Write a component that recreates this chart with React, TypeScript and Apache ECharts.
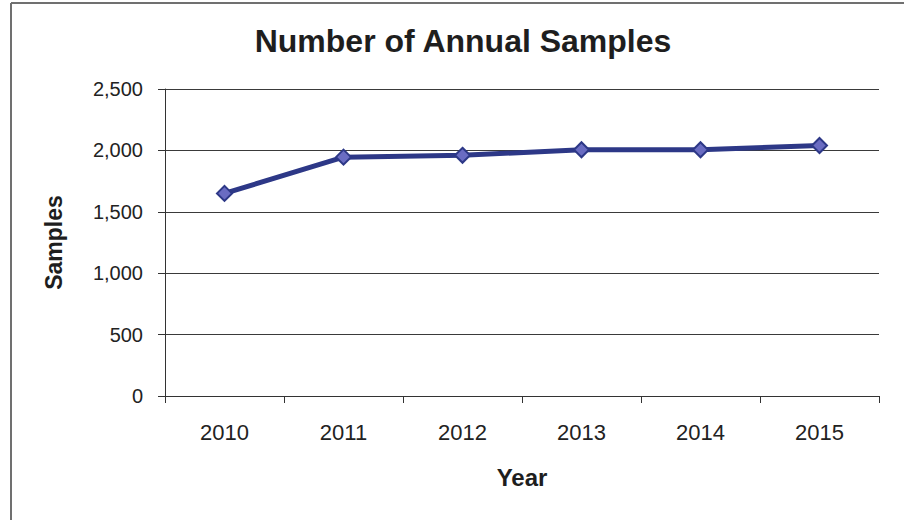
import React, { useEffect, useRef } from "react";
import * as echarts from "echarts";

const years = ["2010", "2011", "2012", "2013", "2014", "2015"];
const samples = [1650, 1945, 1960, 2005, 2005, 2040];
const yTicks = { min: 0, max: 2500, interval: 500 };
const titleText = "Number of Annual Samples";
const xName = "Year";
const yName = "Samples";

const FONT = "'Liberation Sans', Arial, sans-serif";

export default function App() {
  const ref = useRef<HTMLDivElement>(null);
  useEffect(() => {
    if (!ref.current) return;
    const chart = echarts.init(ref.current, undefined, { renderer: "svg" });
    chart.setOption({
      animation: false,
      backgroundColor: "#ffffff",
      title: {
        text: titleText,
        left: 458,
        top: 20,
        textAlign: "center",
        textStyle: { fontFamily: FONT, fontSize: 32, fontWeight: "bold", color: "#1e1e1e" },
      },
      grid: { left: 165, right: 25, top: 89, bottom: 124, containLabel: false },
      xAxis: {
        type: "category",
        data: years,
        boundaryGap: true,
        name: xName,
        nameLocation: "middle",
        nameGap: 69,
        nameTextStyle: { fontFamily: FONT, fontSize: 24, fontWeight: "bold", color: "#1e1e1e" },
        axisLine: { show: true, lineStyle: { color: "#333", width: 1 } },
        axisTick: { show: true, alignWithLabel: false, length: 7, lineStyle: { color: "#333" } },
        axisLabel: { fontFamily: FONT, fontSize: 22, color: "#222", margin: 25 },
        splitLine: { show: false },
      },
      yAxis: {
        type: "value",
        min: yTicks.min,
        max: yTicks.max,
        interval: yTicks.interval,
        name: yName,
        nameLocation: "middle",
        nameGap: 100,
        nameRotate: 90,
        nameTextStyle: { fontFamily: FONT, fontSize: 23, fontWeight: "bold", color: "#1e1e1e" },
        axisLine: { show: true, lineStyle: { color: "#333", width: 1 } },
        axisTick: { show: true, inside: false, length: 7, lineStyle: { color: "#333" } },
        axisLabel: {
          fontFamily: FONT,
          fontSize: 20,
          color: "#222",
          margin: 22,
          formatter: (v: number) => v.toLocaleString("en-US"),
        },
        splitLine: { show: true, lineStyle: { color: "#3a3a3a", width: 1 } },
      },
      series: [
        {
          type: "line",
          data: samples,
          symbol: "diamond",
          symbolSize: 15,
          lineStyle: { color: "#2d3887", width: 5 },
          itemStyle: { color: "#6a6cc2", borderColor: "#2d3887", borderWidth: 2 },
        },
      ],
      graphic: [
        { type: "line", shape: { x1: 11, y1: 3, x2: 904, y2: 3 }, style: { stroke: "#707070", lineWidth: 2 } },
        { type: "line", shape: { x1: 11, y1: 3, x2: 11, y2: 520 }, style: { stroke: "#707070", lineWidth: 2 } },
      ],
    });
    return () => chart.dispose();
  }, []);
  return (
    <div
      ref={ref}
      style={{ position: "fixed", left: 0, top: 0, width: 904, height: 520 }}
    />
  );
}
